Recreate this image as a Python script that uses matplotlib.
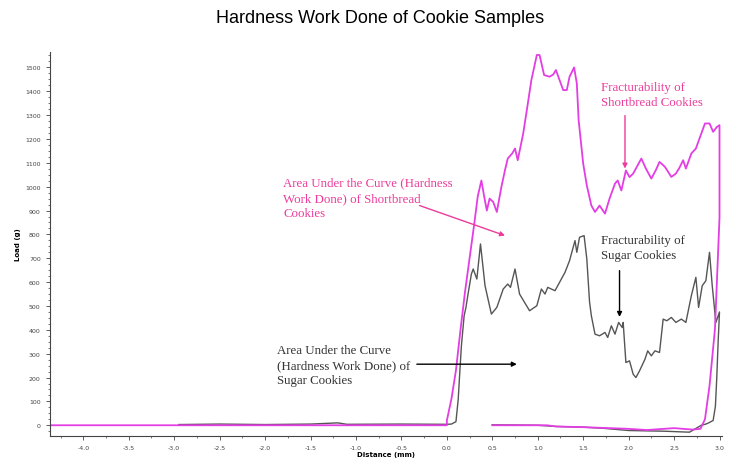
import numpy as np
import matplotlib
matplotlib.use("Agg")
import matplotlib.pyplot as plt
from matplotlib.ticker import MultipleLocator


# shortbread trace (distance mm, load g) - forward stroke then return
sb_dist = [-4.37, -3.0, -1.5, 0.0, 0.0, 0.05, 0.1, 0.15, 0.2, 0.25, 0.3, 0.34, 0.38, 0.41, 0.44,
           0.47, 0.51, 0.55, 0.60, 0.64, 0.67, 0.72, 0.75, 0.78, 0.84, 0.88, 0.93, 0.99, 1.02,
           1.07, 1.13, 1.17, 1.20, 1.24, 1.28, 1.32, 1.35, 1.40, 1.43, 1.45, 1.50, 1.54, 1.59,
           1.63, 1.68, 1.74, 1.79, 1.85, 1.88, 1.92, 1.97, 2.01, 2.05, 2.10, 2.14, 2.19, 2.25,
           2.30, 2.34, 2.40, 2.47, 2.52, 2.56, 2.60, 2.63, 2.69, 2.74, 2.78, 2.84, 2.89, 2.93,
           2.97, 3.0, 3.0, 2.95, 2.89, 2.84, 2.79, 2.7, 2.5, 2.2, 2.0, 1.5, 1.2, 1.1, 0.5]
sb_load = [0, 0, 0, 0, 20, 110, 230, 400, 560, 700, 840, 960, 1026, 960, 900,
           950, 936, 894, 999, 1070, 1118, 1140, 1160, 1111, 1223, 1321, 1447, 1552, 1552,
           1468, 1461, 1470, 1489, 1447, 1405, 1405, 1461, 1500, 1433, 1279, 1097, 1005, 921,
           894, 921, 887, 950, 1013, 1026, 984, 1068, 1040, 1055, 1090, 1118, 1076, 1034,
           1070, 1104, 1083, 1041, 1055, 1080, 1111, 1076, 1139, 1160, 1202, 1265, 1265, 1230,
           1250, 1258, 870, 403, 165, 25, -15, -18, -12, -20, -15, -8, -5, 0, 0]

# sugar cookie trace
su_dist = [-2.95, -2.5, -2.0, -1.5, -1.2, -1.1, -0.5, 0.0, 0.05, 0.1, 0.125, 0.14, 0.16, 0.19,
           0.21, 0.23, 0.27, 0.29, 0.33, 0.37, 0.42, 0.49, 0.55, 0.62, 0.67, 0.70, 0.75, 0.80,
           0.91, 0.99, 1.04, 1.08, 1.11, 1.19, 1.24, 1.30, 1.35, 1.41, 1.43, 1.46, 1.51, 1.54,
           1.57, 1.59, 1.63, 1.68, 1.74, 1.77, 1.81, 1.85, 1.89, 1.93, 1.94, 1.97, 2.01, 2.05,
           2.08, 2.12, 2.18, 2.21, 2.25, 2.29, 2.34, 2.38, 2.42, 2.47, 2.52, 2.58, 2.63, 2.69,
           2.74, 2.77, 2.81, 2.85, 2.89, 2.92, 2.96, 3.0, 2.985, 2.97, 2.955, 2.93, 2.88, 2.85,
           2.8, 2.67, 2.4, 2.0, 1.7, 1.5, 1.2, 1.0, 0.5]
su_load = [3, 5, 3, 5, 10, 4, 5, 4, 5, 15, 109, 207, 333, 459,
           494, 543, 634, 655, 613, 760, 585, 466, 494, 571, 592, 578, 655, 550,
           480, 501, 571, 550, 578, 564, 599, 641, 690, 774, 725, 788, 795, 697,
           517, 459, 382, 375, 389, 368, 417, 382, 431, 410, 431, 263, 270, 214,
           200, 228, 277, 312, 291, 312, 305, 445, 438, 452, 431, 445, 431, 543,
           620, 494, 585, 606, 725, 585, 431, 475, 350, 200, 80, 20, 10, 5,
           0, -29, -25, -22, -12, -8, -5, 0, 2]

pink = '#e33de3'
note_pink = '#ec3c9c'
note_dark = '#333333'

plt.rcParams['axes.unicode_minus'] = False

fig = plt.figure(figsize=(7.31, 4.6), dpi=100)
ax = fig.add_axes([0.068, 0.05, 0.92, 0.835])

ax.plot(su_dist, su_load, color='#555555', lw=1.0)
ax.plot(sb_dist, sb_load, color=pink, lw=1.3)

ax.set_xlim(-4.37, 3.03)
ax.set_ylim(-45, 1565)
ax.xaxis.set_major_locator(MultipleLocator(0.5))
ax.xaxis.set_minor_locator(MultipleLocator(0.25))
ax.yaxis.set_major_locator(MultipleLocator(100))
ax.yaxis.set_minor_locator(MultipleLocator(25))
ax.tick_params(which='both', direction='out', labelsize=4.5, colors='#444444')
ax.tick_params(which='major', length=3, width=0.6)
ax.tick_params(which='minor', length=1.5, width=0.5)
for s in ['top', 'right']:
    ax.spines[s].set_visible(False)
for s in ['left', 'bottom']:
    ax.spines[s].set_color('#444444')
    ax.spines[s].set_linewidth(0.8)

ax.set_xlabel('Distance (mm)', fontsize=5, fontweight='bold', labelpad=1)
ax.set_ylabel('Load (g)', fontsize=5, fontweight='bold', labelpad=3)

fig.text(0.52, 0.96, 'Hardness Work Done of Cookie Samples', ha='center', va='center',
         fontsize=13, family='Liberation Sans')

serif = 'Liberation Serif'
ax.text(-1.80, 1042, 'Area Under the Curve (Hardness\nWork Done) of Shortbread\nCookies',
        color=note_pink, fontsize=9.3, family=serif, va='top', ha='left', linespacing=1.35)
ax.text(1.70, 1445, 'Fracturability of\nShortbread Cookies',
        color=note_pink, fontsize=9.3, family=serif, va='top', ha='left', linespacing=1.35)
ax.text(1.70, 802, 'Fracturability of\nSugar Cookies',
        color=note_dark, fontsize=9.3, family=serif, va='top', ha='left', linespacing=1.35)
ax.text(-1.87, 340, 'Area Under the Curve\n(Hardness Work Done) of\nSugar Cookies',
        color=note_dark, fontsize=9.3, family=serif, va='top', ha='left', linespacing=1.35)

arr = dict(arrowstyle='-|>', lw=1.0, mutation_scale=7, shrinkA=0, shrinkB=0)
ax.annotate('', xy=(0.64, 795), xytext=(-0.30, 921), arrowprops=dict(arr, color=note_pink))
ax.annotate('', xy=(1.96, 1076), xytext=(1.96, 1298), arrowprops=dict(arr, color=note_pink))
ax.annotate('', xy=(1.90, 454), xytext=(1.90, 648), arrowprops=dict(arr, color='black'))
ax.annotate('', xy=(0.77, 256), xytext=(-0.33, 256), arrowprops=dict(arr, color='black'))

fig.savefig('out.png', dpi=100)
